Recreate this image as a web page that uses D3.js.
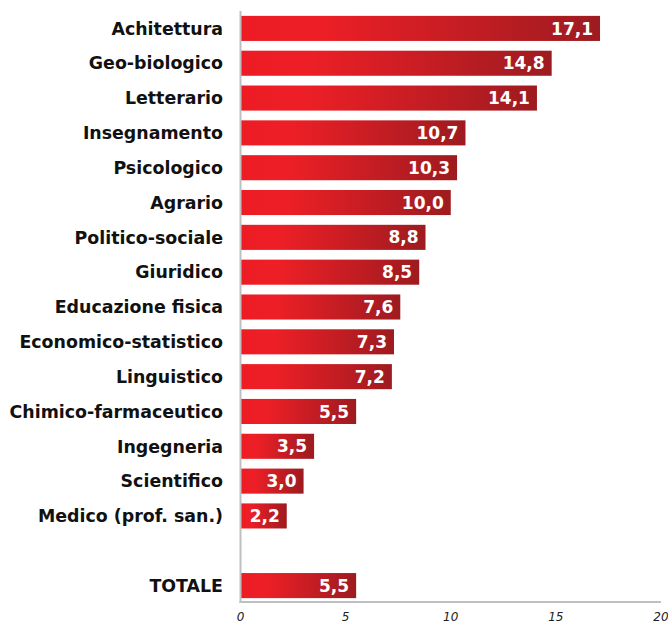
<!DOCTYPE html>
<html><head><meta charset="utf-8">
<script src="https://cdn.jsdelivr.net/npm/d3@7"></script>
<style>body{margin:0;background:#fff}svg{display:block}</style>
</head><body>
<script>
const categories = ["Achitettura","Geo-biologico","Letterario","Insegnamento","Psicologico","Agrario","Politico-sociale","Giuridico","Educazione fisica","Economico-statistico","Linguistico","Chimico-farmaceutico","Ingegneria","Scientifico","Medico (prof. san.)","","TOTALE"];
const values = [17.1,14.8,14.1,10.7,10.3,10.0,8.8,8.5,7.6,7.3,7.2,5.5,3.5,3.0,2.2,null,5.5];
const ticks = [0,5,10,15,20];

const W=668,H=625;
const svg=d3.select("body").append("svg").attr("width",W).attr("height",H);
const defs=svg.append("defs");
const g=defs.append("linearGradient").attr("id","grad").attr("x1","0").attr("x2","1").attr("y1","0").attr("y2","0");
g.append("stop").attr("offset","0").attr("stop-color","#ed1c24");
g.append("stop").attr("offset","0.22").attr("stop-color","#ed1f26");
g.append("stop").attr("offset","1").attr("stop-color","#9d1b20");

const x=d3.scaleLinear().domain([0,20]).range([240.5,661]);
const y=d3.scaleBand().domain(d3.range(categories.length)).range([11,603]).paddingInner(0.28).paddingOuter(0.14);

const data=categories.map((c,i)=>({c,v:values[i],i}));

svg.selectAll("rect.bar").data(data.filter(d=>d.v!=null)).join("rect")
  .attr("class","bar")
  .attr("x",x(0)).attr("y",d=>y(d.i))
  .attr("width",d=>x(d.v)-x(0)).attr("height",y.bandwidth())
  .attr("fill","url(#grad)");

svg.selectAll("text.val").data(data.filter(d=>d.v!=null)).join("text")
  .attr("class","val")
  .attr("x",d=>x(d.v)-7).attr("y",d=>y(d.i)+y.bandwidth()/2)
  .attr("dy","0.36em").attr("text-anchor","end")
  .attr("fill","#fff").attr("font-family","DejaVu Sans").attr("font-weight","bold").attr("font-size",17)
  .text(d=>d3.format(".1f")(d.v).replace(".",","));

svg.selectAll("text.cat").data(data).join("text")
  .attr("class","cat")
  .attr("x",223).attr("y",d=>y(d.i)+y.bandwidth()/2)
  .attr("dy","0.36em").attr("text-anchor","end")
  .attr("fill","#111").attr("font-family","DejaVu Sans").attr("font-weight","bold").attr("font-size",17.4)
  .text(d=>d.c);

// axes lines
svg.append("line").attr("x1",x(0)).attr("x2",x(0)).attr("y1",11).attr("y2",603)
  .attr("stroke","#bfbfbf").attr("stroke-width",2);
svg.append("line").attr("x1",x(0)-1).attr("x2",x(20)).attr("y1",602).attr("y2",602)
  .attr("stroke","#bfbfbf").attr("stroke-width",2);

svg.selectAll("text.tick").data(ticks).join("text")
  .attr("class","tick")
  .attr("x",d=>x(d)).attr("y",621)
  .attr("text-anchor","middle")
  .attr("fill","#222").attr("font-family","DejaVu Sans").attr("font-style","italic").attr("font-size",12)
  .text(d=>d);
</script>
</body></html>
